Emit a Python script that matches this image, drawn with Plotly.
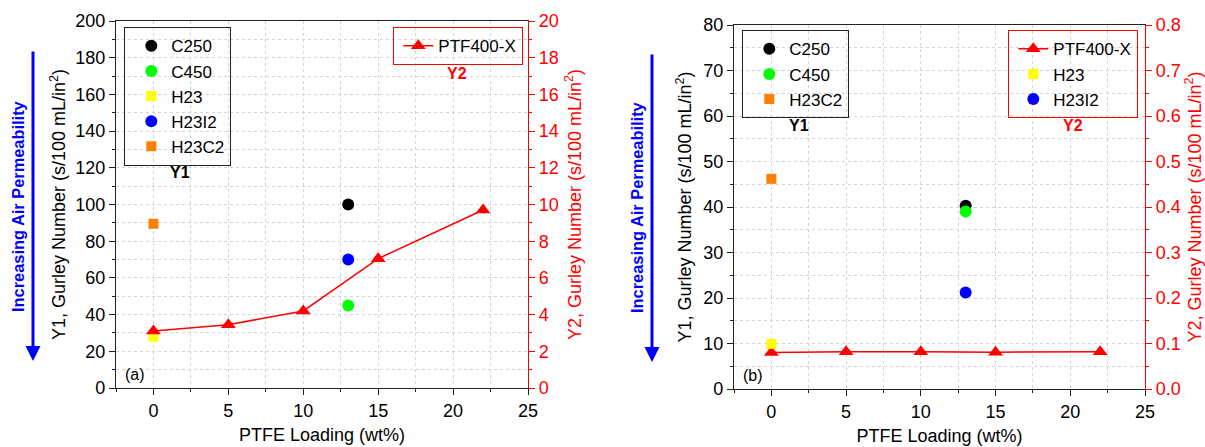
import plotly.graph_objects as go

W, H = 1205, 447

# PTFE loading (wt%) for the PTF400-X series
ptfe_loading = [0, 5, 10, 15, 22]

# Panel (a) values
ptf400x_a = [3.1, 3.45, 4.2, 7.05, 9.7]      # Y2
c250_a = [100]                                # Y1 at 13 wt%
c450_a = [45]
h23i2_a = [70]
h23_a = [28]                                  # Y1 at 0 wt%
h23c2_a = [89.5]

# Panel (b) values
ptf400x_b = [0.080, 0.082, 0.082, 0.081, 0.082]  # Y2
c250_b = [40.3]                                   # Y1 at 13 wt%
c450_b = [39.0]
h23c2_b = [46.2]                                  # Y1 at 0 wt%
h23_b = [0.099]                                   # Y2 at 0 wt%
h23i2_b = [0.212]                                 # Y2 at 13 wt%

x_zero = [0]
x_13 = [13]

FONT = "Arial, Liberation Sans, sans-serif"
RED = "#ff0000"
GRID = "#d4d4d4"


def px_x(px):
    return px / W


def px_y(py):
    return 1 - py / H


fig = go.Figure()

circle = dict(symbol="circle", size=12)
square = dict(symbol="square", size=10)
tri = dict(symbol="triangle-up", size=13, color=RED)

# ---- panel (a) ----
fig.add_trace(go.Scatter(x=x_13, y=c250_a, mode="markers", name="C250",
                         marker=dict(circle, color="black"), xaxis="x", yaxis="y", legend="legend"))
fig.add_trace(go.Scatter(x=x_13, y=c450_a, mode="markers", name="C450",
                         marker=dict(circle, color="#00ff00"), xaxis="x", yaxis="y", legend="legend"))
fig.add_trace(go.Scatter(x=x_zero, y=h23_a, mode="markers", name="H23",
                         marker=dict(square, color="#ffff00"), xaxis="x", yaxis="y", legend="legend"))
fig.add_trace(go.Scatter(x=x_13, y=h23i2_a, mode="markers", name="H23I2",
                         marker=dict(circle, color="#0000ff"), xaxis="x", yaxis="y", legend="legend"))
fig.add_trace(go.Scatter(x=x_zero, y=h23c2_a, mode="markers", name="H23C2",
                         marker=dict(square, color="#ff8000"), xaxis="x", yaxis="y", legend="legend"))
fig.add_trace(go.Scatter(x=ptfe_loading, y=ptf400x_a, mode="lines+markers", name="PTF400-X",
                         line=dict(color=RED, width=1.5), marker=tri,
                         xaxis="x", yaxis="y2", legend="legend2"))

# ---- panel (b) ----
fig.add_trace(go.Scatter(x=x_13, y=c250_b, mode="markers", name="C250",
                         marker=dict(circle, color="black"), xaxis="x2", yaxis="y3", legend="legend3"))
fig.add_trace(go.Scatter(x=x_13, y=c450_b, mode="markers", name="C450",
                         marker=dict(circle, color="#00ff00"), xaxis="x2", yaxis="y3", legend="legend3"))
fig.add_trace(go.Scatter(x=x_zero, y=h23c2_b, mode="markers", name="H23C2",
                         marker=dict(square, color="#ff8000"), xaxis="x2", yaxis="y3", legend="legend3"))
fig.add_trace(go.Scatter(x=ptfe_loading, y=ptf400x_b, mode="lines+markers", name="PTF400-X",
                         line=dict(color=RED, width=1.5), marker=tri,
                         xaxis="x2", yaxis="y4", legend="legend4"))
fig.add_trace(go.Scatter(x=x_zero, y=h23_b, mode="markers", name="H23",
                         marker=dict(square, color="#ffff00"), xaxis="x2", yaxis="y4", legend="legend4"))
fig.add_trace(go.Scatter(x=x_13, y=h23i2_b, mode="markers", name="H23I2",
                         marker=dict(circle, color="#0000ff"), xaxis="x2", yaxis="y4", legend="legend4"))

tickfont = dict(family=FONT, size=18, color="black")
titlefont = dict(family=FONT, size=18, color="black")


def xaxis_cfg(domain, anchor):
    return dict(
        domain=domain, anchor=anchor, range=[-2.5, 25], dtick=5, tick0=0,
        showline=True, linecolor="#222", linewidth=1.3, mirror=True,
        ticks="outside", ticklen=6, tickcolor="#222", tickfont=tickfont,
        showgrid=True, gridcolor=GRID, griddash="dot", gridwidth=1, zeroline=False,
        minor=dict(dtick=2.5, ticks="outside", ticklen=3, tickcolor="#222",
                   showgrid=True, gridcolor=GRID, griddash="dot"),
        title=dict(text="PTFE Loading (wt%)", font=titlefont, standoff=8),
        automargin=False,
    )


def y1_cfg(domain, anchor, rng, dtick, standoff):
    return dict(
        domain=domain, anchor=anchor, range=rng, dtick=dtick, tick0=0,
        showline=True, linecolor="#222", linewidth=1.3,
        ticks="outside", ticklen=6, tickcolor="#222", tickfont=tickfont,
        showgrid=True, gridcolor=GRID, griddash="dot", gridwidth=1, zeroline=False,
        minor=dict(dtick=dtick / 2, ticks="outside", ticklen=3, tickcolor="#222",
                   showgrid=True, gridcolor=GRID, griddash="dot"),
        title=dict(text="Y1, Gurley Number (s/100 mL/in<sup>2</sup>)", font=titlefont,
                   standoff=standoff),
        automargin=False,
    )


def y2_cfg(anchor, overlay, rng, dtick, standoff, fmt=None):
    cfg = dict(
        overlaying=overlay, anchor=anchor, side="right", range=rng, dtick=dtick, tick0=0,
        showline=True, linecolor=RED, linewidth=1.3,
        ticks="outside", ticklen=6, tickcolor=RED,
        tickfont=dict(family=FONT, size=18, color=RED),
        showgrid=False, zeroline=False,
        minor=dict(dtick=dtick / 2, ticks="outside", ticklen=3, tickcolor=RED, showgrid=False),
        title=dict(text="Y2, Gurley Number (s/100 mL/in<sup>2</sup>)",
                   font=dict(family=FONT, size=18, color=RED), standoff=standoff),
        automargin=False,
    )
    if fmt:
        cfg["tickformat"] = fmt
    return cfg


dom_xa = [px_x(116), px_x(528)]
dom_xb = [px_x(734), px_x(1145)]
dom_ya = [px_y(388), px_y(21)]
dom_yb = [px_y(389), px_y(25)]

legend_font = dict(family=FONT, size=17, color="black")


def legend_cfg(x, y, xanchor, border, indent):
    return dict(x=x, y=y, xanchor=xanchor, yanchor="top", xref="paper", yref="paper",
                bgcolor="rgba(255,255,255,0)", bordercolor=border, borderwidth=1.3,
                font=legend_font, itemclick=False, tracegroupgap=0, indentation=indent)


annotations = []


def label(text, px, py, color="black", size=16, bold=False, angle=0):
    annotations.append(dict(
        text=f"<b>{text}</b>" if bold else text, x=px_x(px), y=px_y(py),
        xref="paper", yref="paper", showarrow=False, textangle=angle,
        xanchor="center", yanchor="middle", font=dict(family=FONT, size=size, color=color)))


def down_arrow(px, py_top, py_tip):
    annotations.append(dict(
        text="", x=px_x(px), y=px_y(py_tip), xref="paper", yref="paper",
        ax=0, ay=-(py_tip - py_top), axref="pixel", ayref="pixel",
        showarrow=True, arrowhead=2, arrowsize=1, arrowwidth=3, arrowcolor="#0000ff",
        standoff=0))


# panel (a) annotations
label("Y1", 180, 172, bold=True, size=16)
label("Y2", 457, 73, color=RED, bold=True, size=16)
label("(a)", 135, 374, size=16)
down_arrow(33, 50, 361)
label("Increasing Air Permeability", 18, 206, color="#0000ff", bold=True, size=16.4, angle=-90)

# panel (b) annotations
label("Y1", 799, 125, bold=True, size=16)
label("Y2", 1073, 125, color=RED, bold=True, size=16)
label("(b)", 753, 375, size=16)
down_arrow(652, 53, 362)
label("Increasing Air Permeability", 637, 207, color="#0000ff", bold=True, size=16.4, angle=-90)

fig.update_layout(
    width=W, height=H, margin=dict(l=0, r=0, t=0, b=0),
    paper_bgcolor="white", plot_bgcolor="white",
    font=dict(family=FONT, color="black"),
    xaxis=xaxis_cfg(dom_xa, "y"),
    yaxis=y1_cfg(dom_ya, "x", [0, 200], 20, 4),
    yaxis2=y2_cfg("x", "y", [0, 20], 2, 10),
    xaxis2=xaxis_cfg(dom_xb, "y3"),
    yaxis3=y1_cfg(dom_yb, "x2", [0, 80], 10, 6),
    yaxis4=y2_cfg("x2", "y3", [0, 0.8], 0.1, 10, ".1f"),
    legend=legend_cfg(px_x(124), px_y(27), "left", "#222", 6),
    legend2=legend_cfg(px_x(523), px_y(27), "right", RED, 4),
    legend3=legend_cfg(px_x(742), px_y(30), "left", "#222", 6),
    legend4=legend_cfg(px_x(1138), px_y(30), "right", RED, 4),
    annotations=annotations,
    showlegend=True,
)

fig.write_html("out.html")
